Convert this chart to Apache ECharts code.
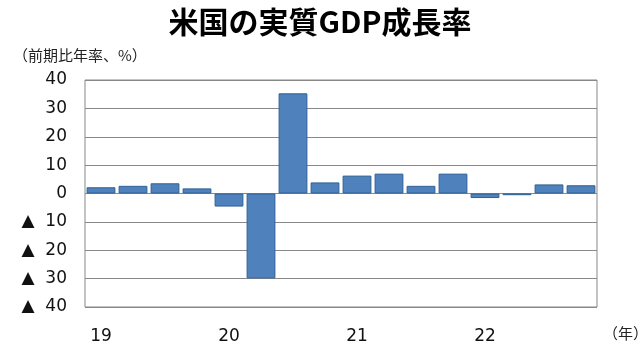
<!DOCTYPE html>
<html><head><meta charset="utf-8">
<script src="https://cdn.jsdelivr.net/npm/echarts@6/dist/echarts.min.js"></script>
<style>html,body{margin:0;padding:0;background:#fff}#c{width:640px;height:356px}</style>
</head><body><div id="c"></div>
<script>
const quarters = ['19Q1','19Q2','19Q3','19Q4','20Q1','20Q2','20Q3','20Q4','21Q1','21Q2','21Q3','21Q4','22Q1','22Q2','22Q3','22Q4'];
const yearLabels = ['19','','','','20','','','','21','','','','22','','',''];
const growth = [2.2, 2.7, 3.6, 1.8, -4.6, -29.9, 35.3, 3.9, 6.3, 7.0, 2.7, 7.0, -1.6, -0.6, 3.2, 2.9];
const yTicks = [-40, -30, -20, -10, 0, 10, 20, 30, 40];

const chart = echarts.init(document.getElementById('c'), null, {renderer: 'canvas'});
chart.setOption({
  animation: false,
  backgroundColor: '#fff',
  title: {
    text: '米国の実質GDP成長率', left: 'center', top: 2,
    textStyle: {fontFamily: 'Noto Sans CJK JP', fontWeight: 'bold', fontSize: 30, color: '#000'}
  },
  graphic: [
    {type: 'text', left: 13, top: 48, style: {text: '（前期比年率、%）', fontFamily: 'Noto Sans CJK JP', fontSize: 15, fill: '#222'}},
    {type: 'text', left: 603, top: 326, style: {text: '（年）', fontFamily: 'Noto Sans CJK JP', fontSize: 15, fill: '#222'}}
  ],
  grid: {left: 85, right: 43, top: 80, bottom: 49, show: true, borderColor: '#888', borderWidth: 1},
  xAxis: {
    type: 'category', data: quarters,
    axisLine: {show: false}, axisTick: {show: false},
    axisLabel: {interval: 0, margin: 21, fontFamily: 'DejaVu Sans', fontSize: 17, color: '#111',
      formatter: (v, i) => yearLabels[i]}
  },
  yAxis: {
    type: 'value', min: yTicks[0], max: yTicks[yTicks.length - 1], interval: 10,
    axisLine: {show: false}, axisTick: {show: false},
    splitLine: {lineStyle: {color: '#888', width: 1}},
    axisLabel: {margin: 18, fontFamily: 'DejaVu Sans', fontSize: 17, color: '#111',
      formatter: v => v < 0 ? '▲  ' + Math.abs(v) : String(v)}
  },
  series: [{
    type: 'bar', data: growth, barCategoryGap: '10%',
    itemStyle: {color: '#4F81BD', borderColor: '#2E6096', borderWidth: 1}
  }]
});
</script></body></html>
